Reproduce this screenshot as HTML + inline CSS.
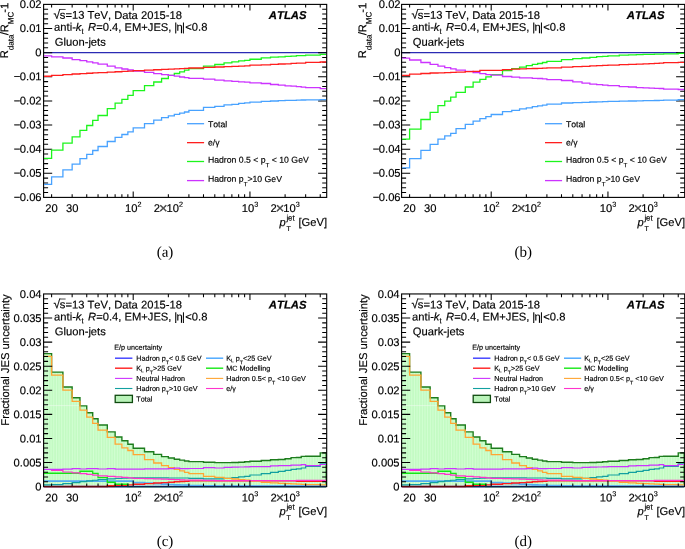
<!DOCTYPE html>
<html lang="en"><head><meta charset="utf-8"><title>JES uncertainty from E/p</title>
<style>
html,body{margin:0;padding:0;background:#fff}
body{width:685px;height:549px;overflow:hidden}
svg{display:block;font-family:"Liberation Sans", sans-serif;fill:#000;text-rendering:geometricPrecision;font-kerning:none}
text{stroke:#000;stroke-width:.16px}
.k{fill:none;stroke:#000;stroke-width:1.05}
.fr{fill:none;stroke:#000;stroke-width:1.12}
.c{fill:none;stroke-width:1.3;stroke-linejoin:miter}
</style></head><body>
<svg width="685" height="549" viewBox="0 0 685 549">
<rect width="685" height="549" fill="#fff"/>
<g>
<path class="c" stroke="#2b2bb4" style="stroke-width:1.25" d="M43.6 52.65H326.7"/>
<path class="k" d="M43.6 9.23h4.5M326.7 9.23h-4.5M43.6 14.05h4.5M326.7 14.05h-4.5M43.6 18.88h4.5M326.7 18.88h-4.5M43.6 23.7h4.5M326.7 23.7h-4.5M43.6 28.52h8.6M326.7 28.52h-8.6M43.6 33.35h4.5M326.7 33.35h-4.5M43.6 38.17h4.5M326.7 38.17h-4.5M43.6 43h4.5M326.7 43h-4.5M43.6 47.83h4.5M326.7 47.83h-4.5M43.6 52.65h8.6M326.7 52.65h-8.6M43.6 57.48h4.5M326.7 57.48h-4.5M43.6 62.3h4.5M326.7 62.3h-4.5M43.6 67.12h4.5M326.7 67.12h-4.5M43.6 71.95h4.5M326.7 71.95h-4.5M43.6 76.78h8.6M326.7 76.78h-8.6M43.6 81.6h4.5M326.7 81.6h-4.5M43.6 86.43h4.5M326.7 86.43h-4.5M43.6 91.25h4.5M326.7 91.25h-4.5M43.6 96.08h4.5M326.7 96.08h-4.5M43.6 100.9h8.6M326.7 100.9h-8.6M43.6 105.73h4.5M326.7 105.73h-4.5M43.6 110.55h4.5M326.7 110.55h-4.5M43.6 115.38h4.5M326.7 115.38h-4.5M43.6 120.2h4.5M326.7 120.2h-4.5M43.6 125.03h8.6M326.7 125.03h-8.6M43.6 129.85h4.5M326.7 129.85h-4.5M43.6 134.68h4.5M326.7 134.68h-4.5M43.6 139.5h4.5M326.7 139.5h-4.5M43.6 144.33h4.5M326.7 144.33h-4.5M43.6 149.15h8.6M326.7 149.15h-8.6M43.6 153.97h4.5M326.7 153.97h-4.5M43.6 158.8h4.5M326.7 158.8h-4.5M43.6 163.62h4.5M326.7 163.62h-4.5M43.6 168.45h4.5M326.7 168.45h-4.5M43.6 173.28h8.6M326.7 173.28h-8.6M43.6 178.1h4.5M326.7 178.1h-4.5M43.6 182.93h4.5M326.7 182.93h-4.5M43.6 187.75h4.5M326.7 187.75h-4.5M43.6 192.58h4.5M326.7 192.58h-4.5M51.6 197.4v-3.2M51.6 4.4v3.2M72.15 197.4v-3.2M72.15 4.4v3.2M86.74 197.4v-3.2M86.74 4.4v3.2M98.05 197.4v-3.2M98.05 4.4v3.2M107.3 197.4v-3.2M107.3 4.4v3.2M115.12 197.4v-3.2M115.12 4.4v3.2M121.89 197.4v-3.2M121.89 4.4v3.2M127.86 197.4v-3.2M127.86 4.4v3.2M133.2 197.4v-6M133.2 4.4v6M168.35 197.4v-3.2M168.35 4.4v3.2M188.9 197.4v-3.2M188.9 4.4v3.2M203.49 197.4v-3.2M203.49 4.4v3.2M214.8 197.4v-3.2M214.8 4.4v3.2M224.05 197.4v-3.2M224.05 4.4v3.2M231.87 197.4v-3.2M231.87 4.4v3.2M238.64 197.4v-3.2M238.64 4.4v3.2M244.61 197.4v-3.2M244.61 4.4v3.2M249.95 197.4v-6M249.95 4.4v6M285.1 197.4v-3.2M285.1 4.4v3.2M305.65 197.4v-3.2M305.65 4.4v3.2M320.24 197.4v-3.2M320.24 4.4v3.2"/>
<rect class="fr" x="43.6" y="4.4" width="283.1" height="193"/>
<text x="41.6" y="8" font-size="11.2" text-anchor="end" transform="rotate(0.1 41.6 8)">0.02</text>
<text x="41.6" y="32.12" font-size="11.2" text-anchor="end" transform="rotate(0.1 41.6 32.12)">0.01</text>
<text x="41.6" y="56.25" font-size="11.2" text-anchor="end" transform="rotate(0.1 41.6 56.25)">0</text>
<text x="41.6" y="80.38" font-size="11.2" text-anchor="end" transform="rotate(0.1 41.6 80.38)">−<tspan dx="-0.6">0.01</tspan></text>
<text x="41.6" y="104.5" font-size="11.2" text-anchor="end" transform="rotate(0.1 41.6 104.5)">−<tspan dx="-0.6">0.02</tspan></text>
<text x="41.6" y="128.62" font-size="11.2" text-anchor="end" transform="rotate(0.1 41.6 128.62)">−<tspan dx="-0.6">0.03</tspan></text>
<text x="41.6" y="152.75" font-size="11.2" text-anchor="end" transform="rotate(0.1 41.6 152.75)">−<tspan dx="-0.6">0.04</tspan></text>
<text x="41.6" y="176.88" font-size="11.2" text-anchor="end" transform="rotate(0.1 41.6 176.88)">−<tspan dx="-0.6">0.05</tspan></text>
<text x="41.6" y="201" font-size="11.2" text-anchor="end" transform="rotate(0.1 41.6 201)">−<tspan dx="-0.6">0.06</tspan></text>
<text x="51.6" y="212.1" font-size="11.2" text-anchor="middle" transform="rotate(0.1 51.6 212.1)">20</text>
<text x="72.15" y="212.1" font-size="11.2" text-anchor="middle" transform="rotate(0.1 72.15 212.1)">30</text>
<text x="133.2" y="212.1" font-size="11.2" text-anchor="middle" transform="rotate(0.1 133.2 212.1)">10<tspan font-size="7.2" dy="-5.3">2</tspan></text>
<text x="168.35" y="212.1" font-size="11.2" text-anchor="middle" transform="rotate(0.1 168.35 212.1)">2<tspan font-size="14.6" dx="-1.05" dy="0.85" fill-opacity=".72">×</tspan><tspan dx="-0.95" dy="-0.85">10</tspan><tspan font-size="7.2" dy="-5.3">2</tspan></text>
<text x="249.95" y="212.1" font-size="11.2" text-anchor="middle" transform="rotate(0.1 249.95 212.1)">10<tspan font-size="7.2" dy="-5.3">3</tspan></text>
<text x="285.1" y="212.1" font-size="11.2" text-anchor="middle" transform="rotate(0.1 285.1 212.1)">2<tspan font-size="14.6" dx="-1.05" dy="0.85" fill-opacity=".72">×</tspan><tspan dx="-0.95" dy="-0.85">10</tspan><tspan font-size="7.2" dy="-5.3">3</tspan></text>
<text x="327" y="226" font-size="11.2" text-anchor="end" transform="rotate(0.1 327 226)">[GeV]</text>
<text x="279.6" y="226" font-size="11.2" text-anchor="start" transform="rotate(0.1 279.6 226)" font-style="italic">p</text>
<text x="286.4" y="220.6" font-size="7.8" text-anchor="start" transform="rotate(0.1 286.4 220.6)">jet</text>
<text x="286.4" y="231.1" font-size="7" text-anchor="start" transform="rotate(0.1 286.4 231.1)">T</text>
<clipPath id="ct0"><rect x="44.1" y="4.9" width="282.1" height="192"/></clipPath>
<g clip-path="url(#ct0)">
<path class="c" stroke="#48a2ff" d="M43.6 184.4H51.6V176.9H62.91V169.8H72.15V164.1H79.97V158.7H86.74V154.3H92.71V150.5H98.05V146.5H107.3V141.5H115.12V137.4H121.89V134.5H127.86V131.8H133.2V127.8H144.51V123.7H153.76V120.1H161.57V117.6H168.35V115.8H174.32V114.4H179.66V113.2H184.49V112H188.9V110.3H203.49V107.44H214.8V106.4H224.05V104.94H231.87V104.33H238.64V103.46H244.61V102.8H249.95V102.1H261.26V101.4H270.51V101H278.32V100.6H285.1V100.4H291.07V100.3H296.41V100.15H301.24V100H305.65V99.9H320.24V99.6H326.21"/>
<path class="c" stroke="#1cf51c" d="M43.6 158.3H51.6V150.1H62.91V143.2H72.15V136.8H79.97V130.4H86.74V125.5H92.71V120.4H98.05V115.5H107.3V108.6H115.12V103.2H121.89V99.3H127.86V95.4H133.2V90.7H144.51V85.6H153.76V82H161.57V78.5H168.35V75.4H174.32V73.5H179.66V71.8H184.49V70.1H188.9V68.6H203.49V66.1H214.8V64.5H224.05V62.8H231.87V61.9H238.64V60.9H244.61V60.3H249.95V59.25H261.26V57.85H270.51V57.15H278.32V56.8H285.1V56.45H291.07V56.2H296.41V55.65H301.24V55.6H305.65V55.1H320.24V54.35H326.21"/>
<path class="c" stroke="#cc33ff" d="M43.6 55.8H51.6V56.9H62.91V58H72.15V59.6H79.97V60.7H86.74V61.8H92.71V62.9H98.05V64.2H107.3V66.1H115.12V67.8H121.89V69H127.86V70H133.2V71H144.51V72.4H153.76V73.6H161.57V74.7H168.35V75.4H174.32V76.2H179.66V77H184.49V77.7H188.9V78.4H203.49V79.2H214.8V80.2H224.05V80.8H231.87V81.4H238.64V81.8H244.61V82.2H249.95V82.8H261.26V83.5H270.51V84.5H278.32V85.2H285.1V85.8H291.07V86.2H296.41V86.6H301.24V87.1H305.65V87.7H320.24V88.6H326.21"/>
<path class="c" stroke="#ff1e1e" d="M43.6 76.25H51.6V75.38H62.91V74.56H72.15V74H79.97V73.58H86.74V73.25H92.71V72.96H98.05V72.58H107.3V72.14H115.12V71.76H121.89V71.43H127.86V71.14H133.2V70.71H144.51V70.18H153.76V69.73H161.57V69.36H168.35V69.06H174.32V68.82H179.66V68.6H184.49V68.4H188.9V68H203.49V67.44H214.8V67H224.05V66.64H231.87V66.33H238.64V66.06H244.61V65.82H249.95V65.1H261.26V64.8H270.51V64.35H278.32V64H285.1V63.8H291.07V63.45H296.41V63.2H301.24V63.1H305.65V62.3H320.24V62H326.21"/>
</g>
<text x="53.5" y="18.8" font-size="11.2" text-anchor="start" transform="rotate(0.1 53.5 18.8)"><tspan font-size="12.2">√</tspan><tspan dx="-0.4">s=13 TeV, Data 2015-18</tspan></text>
<path class="k" style="stroke-width:.7" d="M60 9.48h5.6"/>
<text x="54.1" y="30.85" font-size="11.2" text-anchor="start" transform="rotate(0.1 54.1 30.85)">anti-<tspan font-style="italic">k</tspan></text>
<text x="81.5" y="33.75" font-size="7.6" text-anchor="start" transform="rotate(0.1 81.5 33.75)">t</text>
<text x="88.1" y="30.85" font-size="11.2" text-anchor="start" transform="rotate(0.1 88.1 30.85)"><tspan font-style="italic">R</tspan>=0.4, EM+JES,</text>
<text x="174.15" y="30.85" font-size="11.2" text-anchor="start" transform="rotate(0.1 174.15 30.85)" letter-spacing="-0.6">|η|</text>
<text x="185.3" y="30.85" font-size="11.2" text-anchor="start" transform="rotate(0.1 185.3 30.85)">&lt;0.8</text>
<text x="54.8" y="45.7" font-size="11.2" text-anchor="start" transform="rotate(0.1 54.8 45.7)">Gluon-jets</text>
<text x="306.5" y="19.1" font-size="11.3" text-anchor="end" transform="rotate(0.1 306.5 19.1)" font-weight="bold" font-style="italic" style="stroke-width:.24px">ATLAS</text>
<g transform="translate(8.2 2.7) rotate(-89.9)">
<text x="0" y="0" font-size="11.2" text-anchor="end">R<tspan font-size="8" dy="5.3">data</tspan><tspan dy="-5.3" dx="-0.5">/</tspan><tspan dx="-0.25">R</tspan><tspan font-size="8" dy="5.3">MC</tspan><tspan dy="-5.3" dx="-0.9">-1</tspan></text>
</g>
<path class="c" stroke="#48a2ff" d="M187 123.7H204.1"/>
<text x="207.9" y="127.15" font-size="8.7" text-anchor="start" transform="rotate(0.1 207.9 127.15)">Total</text>
<path class="c" stroke="#ff1e1e" d="M187 142.65H204.1"/>
<text x="207.9" y="145.55" font-size="8.7" text-anchor="start" transform="rotate(0.1 207.9 145.55)">e/γ</text>
<path class="c" stroke="#1cf51c" d="M187 161.5H204.1"/>
<text x="207.9" y="162.7" font-size="8.7" text-anchor="start" transform="rotate(0.1 207.9 162.7)">Hadron 0.5 &lt; p<tspan font-size="6.2" dy="4.4">T</tspan><tspan dy="-4.4"> &lt; 10 GeV</tspan></text>
<path class="c" stroke="#cc33ff" d="M187 180.6H204.1"/>
<text x="207.9" y="181.8" font-size="8.7" text-anchor="start" transform="rotate(0.1 207.9 181.8)">Hadron p<tspan font-size="6.2" dy="4.4">T</tspan><tspan dy="-4.4">&gt;10 GeV</tspan></text>
</g>
<g>
<path class="c" stroke="#2b2bb4" style="stroke-width:1.25" d="M401.6 52.65H684.7"/>
<path class="k" d="M401.6 9.23h4.5M684.7 9.23h-4.5M401.6 14.05h4.5M684.7 14.05h-4.5M401.6 18.88h4.5M684.7 18.88h-4.5M401.6 23.7h4.5M684.7 23.7h-4.5M401.6 28.52h8.6M684.7 28.52h-8.6M401.6 33.35h4.5M684.7 33.35h-4.5M401.6 38.17h4.5M684.7 38.17h-4.5M401.6 43h4.5M684.7 43h-4.5M401.6 47.83h4.5M684.7 47.83h-4.5M401.6 52.65h8.6M684.7 52.65h-8.6M401.6 57.48h4.5M684.7 57.48h-4.5M401.6 62.3h4.5M684.7 62.3h-4.5M401.6 67.12h4.5M684.7 67.12h-4.5M401.6 71.95h4.5M684.7 71.95h-4.5M401.6 76.78h8.6M684.7 76.78h-8.6M401.6 81.6h4.5M684.7 81.6h-4.5M401.6 86.43h4.5M684.7 86.43h-4.5M401.6 91.25h4.5M684.7 91.25h-4.5M401.6 96.08h4.5M684.7 96.08h-4.5M401.6 100.9h8.6M684.7 100.9h-8.6M401.6 105.73h4.5M684.7 105.73h-4.5M401.6 110.55h4.5M684.7 110.55h-4.5M401.6 115.38h4.5M684.7 115.38h-4.5M401.6 120.2h4.5M684.7 120.2h-4.5M401.6 125.03h8.6M684.7 125.03h-8.6M401.6 129.85h4.5M684.7 129.85h-4.5M401.6 134.68h4.5M684.7 134.68h-4.5M401.6 139.5h4.5M684.7 139.5h-4.5M401.6 144.33h4.5M684.7 144.33h-4.5M401.6 149.15h8.6M684.7 149.15h-8.6M401.6 153.97h4.5M684.7 153.97h-4.5M401.6 158.8h4.5M684.7 158.8h-4.5M401.6 163.62h4.5M684.7 163.62h-4.5M401.6 168.45h4.5M684.7 168.45h-4.5M401.6 173.28h8.6M684.7 173.28h-8.6M401.6 178.1h4.5M684.7 178.1h-4.5M401.6 182.93h4.5M684.7 182.93h-4.5M401.6 187.75h4.5M684.7 187.75h-4.5M401.6 192.58h4.5M684.7 192.58h-4.5M409.6 197.4v-3.2M409.6 4.4v3.2M430.15 197.4v-3.2M430.15 4.4v3.2M444.74 197.4v-3.2M444.74 4.4v3.2M456.05 197.4v-3.2M456.05 4.4v3.2M465.3 197.4v-3.2M465.3 4.4v3.2M473.12 197.4v-3.2M473.12 4.4v3.2M479.89 197.4v-3.2M479.89 4.4v3.2M485.86 197.4v-3.2M485.86 4.4v3.2M491.2 197.4v-6M491.2 4.4v6M526.35 197.4v-3.2M526.35 4.4v3.2M546.9 197.4v-3.2M546.9 4.4v3.2M561.49 197.4v-3.2M561.49 4.4v3.2M572.8 197.4v-3.2M572.8 4.4v3.2M582.05 197.4v-3.2M582.05 4.4v3.2M589.87 197.4v-3.2M589.87 4.4v3.2M596.64 197.4v-3.2M596.64 4.4v3.2M602.61 197.4v-3.2M602.61 4.4v3.2M607.95 197.4v-6M607.95 4.4v6M643.1 197.4v-3.2M643.1 4.4v3.2M663.65 197.4v-3.2M663.65 4.4v3.2M678.24 197.4v-3.2M678.24 4.4v3.2"/>
<rect class="fr" x="401.6" y="4.4" width="283.1" height="193"/>
<text x="400.6" y="8" font-size="11.2" text-anchor="end" transform="rotate(0.1 400.6 8)">0.02</text>
<text x="400.6" y="32.12" font-size="11.2" text-anchor="end" transform="rotate(0.1 400.6 32.12)">0.01</text>
<text x="400.6" y="56.25" font-size="11.2" text-anchor="end" transform="rotate(0.1 400.6 56.25)">0</text>
<text x="400.6" y="80.38" font-size="11.2" text-anchor="end" transform="rotate(0.1 400.6 80.38)">−<tspan dx="-0.6">0.01</tspan></text>
<text x="400.6" y="104.5" font-size="11.2" text-anchor="end" transform="rotate(0.1 400.6 104.5)">−<tspan dx="-0.6">0.02</tspan></text>
<text x="400.6" y="128.62" font-size="11.2" text-anchor="end" transform="rotate(0.1 400.6 128.62)">−<tspan dx="-0.6">0.03</tspan></text>
<text x="400.6" y="152.75" font-size="11.2" text-anchor="end" transform="rotate(0.1 400.6 152.75)">−<tspan dx="-0.6">0.04</tspan></text>
<text x="400.6" y="176.88" font-size="11.2" text-anchor="end" transform="rotate(0.1 400.6 176.88)">−<tspan dx="-0.6">0.05</tspan></text>
<text x="400.6" y="201" font-size="11.2" text-anchor="end" transform="rotate(0.1 400.6 201)">−<tspan dx="-0.6">0.06</tspan></text>
<text x="409.6" y="212.1" font-size="11.2" text-anchor="middle" transform="rotate(0.1 409.6 212.1)">20</text>
<text x="430.15" y="212.1" font-size="11.2" text-anchor="middle" transform="rotate(0.1 430.15 212.1)">30</text>
<text x="491.2" y="212.1" font-size="11.2" text-anchor="middle" transform="rotate(0.1 491.2 212.1)">10<tspan font-size="7.2" dy="-5.3">2</tspan></text>
<text x="526.35" y="212.1" font-size="11.2" text-anchor="middle" transform="rotate(0.1 526.35 212.1)">2<tspan font-size="14.6" dx="-1.05" dy="0.85" fill-opacity=".72">×</tspan><tspan dx="-0.95" dy="-0.85">10</tspan><tspan font-size="7.2" dy="-5.3">2</tspan></text>
<text x="607.95" y="212.1" font-size="11.2" text-anchor="middle" transform="rotate(0.1 607.95 212.1)">10<tspan font-size="7.2" dy="-5.3">3</tspan></text>
<text x="643.1" y="212.1" font-size="11.2" text-anchor="middle" transform="rotate(0.1 643.1 212.1)">2<tspan font-size="14.6" dx="-1.05" dy="0.85" fill-opacity=".72">×</tspan><tspan dx="-0.95" dy="-0.85">10</tspan><tspan font-size="7.2" dy="-5.3">3</tspan></text>
<text x="685" y="226" font-size="11.2" text-anchor="end" transform="rotate(0.1 685 226)">[GeV]</text>
<text x="637.6" y="226" font-size="11.2" text-anchor="start" transform="rotate(0.1 637.6 226)" font-style="italic">p</text>
<text x="644.4" y="220.6" font-size="7.8" text-anchor="start" transform="rotate(0.1 644.4 220.6)">jet</text>
<text x="644.4" y="231.1" font-size="7" text-anchor="start" transform="rotate(0.1 644.4 231.1)">T</text>
<clipPath id="ct358"><rect x="402.1" y="4.9" width="282.1" height="192"/></clipPath>
<g clip-path="url(#ct358)">
<path class="c" stroke="#48a2ff" d="M401.6 167.8H409.6V158.7H420.91V150.4H430.15V144.4H437.97V139.2H444.74V135.8H450.71V133.3H456.05V128.7H465.3V124.4H473.12V121.1H479.89V118.7H485.86V116.6H491.2V114.5H502.51V111.7H511.76V110.3H519.57V108.8H526.35V107.8H532.32V106.6H537.66V105.9H542.49V105.1H546.9V104.1H561.49V103H572.8V102.6H582.05V102.4H589.87V102H596.64V101.8H602.61V101.6H607.95V101.45H619.26V101.2H628.51V101H636.32V100.85H643.1V100.7H649.07V100.6H654.41V100.5H659.24V100.4H663.65V100.2H678.24V99.7H684.21"/>
<path class="c" stroke="#1cf51c" d="M401.6 139.2H409.6V129.2H420.91V119.5H430.15V112.4H437.97V105.6H444.74V101.1H450.71V97.2H456.05V92.4H465.3V87H473.12V82.2H479.89V79.3H485.86V76.8H491.2V74.6H502.51V70.5H511.76V68.6H519.57V67.2H526.35V65.7H532.32V64.4H537.66V63.5H542.49V62.5H546.9V61.4H561.49V59.6H572.8V58.6H582.05V58H589.87V57.4H596.64V56.7H602.61V56.4H607.95V55.9H619.26V55.15H628.51V54.85H636.32V54.6H643.1V54.45H649.07V54.3H654.41V54.2H659.24V54.1H663.65V53.85H678.24V53.4H684.21"/>
<path class="c" stroke="#cc33ff" d="M401.6 58.1H409.6V60H420.91V62.5H430.15V64.4H437.97V66.2H444.74V67.6H450.71V68.8H456.05V70.1H465.3V71.4H473.12V72.5H479.89V73.7H485.86V74.7H491.2V75.2H502.51V76.5H511.76V77.2H519.57V77.8H526.35V77.8H532.32V78.3H537.66V78.5H542.49V78.9H546.9V79.7H561.49V80.5H572.8V81.9H582.05V83.2H589.87V84.1H596.64V84.7H602.61V85.1H607.95V85.6H619.26V86.6H628.51V87H636.32V87.6H643.1V87.8H649.07V88.1H654.41V88.3H659.24V88.5H663.65V89.1H678.24V89.5H684.21"/>
<path class="c" stroke="#ff1e1e" d="M401.6 75.4H409.6V74.2H420.91V73.5H430.15V73H437.97V72.8H444.74V72.6H450.71V72.4H456.05V72.1H465.3V71.6H473.12V71.35H479.89V70.3H485.86V70.3H491.2V70.3H502.51V69.6H511.76V69.2H519.57V68.9H526.35V68.7H532.32V68.5H537.66V68.4H542.49V68.2H546.9V67.89H561.49V67.19H572.8V66.59H582.05V66.4H589.87V65.89H596.64V65.64H602.61V65.41H607.95V65.06H619.26V64.61H628.51V64.35H636.32V64.14H643.1V63.96H649.07V63.7H654.41V63.44H659.24V63.2H663.65V62.7H678.24V62.3H684.21"/>
</g>
<text x="411.5" y="18.8" font-size="11.2" text-anchor="start" transform="rotate(0.1 411.5 18.8)"><tspan font-size="12.2">√</tspan><tspan dx="-0.4">s=13 TeV, Data 2015-18</tspan></text>
<path class="k" style="stroke-width:.7" d="M418 9.48h5.6"/>
<text x="412.1" y="30.85" font-size="11.2" text-anchor="start" transform="rotate(0.1 412.1 30.85)">anti-<tspan font-style="italic">k</tspan></text>
<text x="439.5" y="33.75" font-size="7.6" text-anchor="start" transform="rotate(0.1 439.5 33.75)">t</text>
<text x="446.1" y="30.85" font-size="11.2" text-anchor="start" transform="rotate(0.1 446.1 30.85)"><tspan font-style="italic">R</tspan>=0.4, EM+JES,</text>
<text x="532.15" y="30.85" font-size="11.2" text-anchor="start" transform="rotate(0.1 532.15 30.85)" letter-spacing="-0.6">|η|</text>
<text x="543.3" y="30.85" font-size="11.2" text-anchor="start" transform="rotate(0.1 543.3 30.85)">&lt;0.8</text>
<text x="412.8" y="45.7" font-size="11.2" text-anchor="start" transform="rotate(0.1 412.8 45.7)">Quark-jets</text>
<text x="664.5" y="19.1" font-size="11.3" text-anchor="end" transform="rotate(0.1 664.5 19.1)" font-weight="bold" font-style="italic" style="stroke-width:.24px">ATLAS</text>
<g transform="translate(366.2 2.7) rotate(-89.9)">
<text x="0" y="0" font-size="11.2" text-anchor="end">R<tspan font-size="8" dy="5.3">data</tspan><tspan dy="-5.3" dx="-0.5">/</tspan><tspan dx="-0.25">R</tspan><tspan font-size="8" dy="5.3">MC</tspan><tspan dy="-5.3" dx="-0.9">-1</tspan></text>
</g>
<path class="c" stroke="#48a2ff" d="M545 123.7H562.1"/>
<text x="565.9" y="127.15" font-size="8.7" text-anchor="start" transform="rotate(0.1 565.9 127.15)">Total</text>
<path class="c" stroke="#ff1e1e" d="M545 142.65H562.1"/>
<text x="565.9" y="145.55" font-size="8.7" text-anchor="start" transform="rotate(0.1 565.9 145.55)">e/γ</text>
<path class="c" stroke="#1cf51c" d="M545 161.5H562.1"/>
<text x="565.9" y="162.7" font-size="8.7" text-anchor="start" transform="rotate(0.1 565.9 162.7)">Hadron 0.5 &lt; p<tspan font-size="6.2" dy="4.4">T</tspan><tspan dy="-4.4"> &lt; 10 GeV</tspan></text>
<path class="c" stroke="#cc33ff" d="M545 180.6H562.1"/>
<text x="565.9" y="181.8" font-size="8.7" text-anchor="start" transform="rotate(0.1 565.9 181.8)">Hadron p<tspan font-size="6.2" dy="4.4">T</tspan><tspan dy="-4.4">&gt;10 GeV</tspan></text>
</g>
<g>
<path fill="#c3fbc3" stroke="none" d="M43.6 353.6H51.6V372.1H62.91V387H72.15V397.8H79.97V405.9H86.74V412.7H92.71V418.7H98.05V425H107.3V431.9H115.12V437H121.89V440.8H127.86V444.2H133.2V448.3H144.51V451.8H153.76V454.4H161.57V456.6H168.35V458H174.32V459.2H179.66V460.1H184.49V461H188.9V461.6H203.49V462.3H214.8V462.6H224.05V462.6H231.87V462.5H238.64V462.3H244.61V461.8H249.95V461.2H261.26V460.5H270.51V459.8H278.32V459.5H285.1V458.8H291.07V457.6H296.41V457.5H301.24V456.4H305.65V456.3H320.24V452.9H326.21V486.6H43.6Z"/>
<clipPath id="cp0"><path d="M43.6 353.6H51.6V372.1H62.91V387H72.15V397.8H79.97V405.9H86.74V412.7H92.71V418.7H98.05V425H107.3V431.9H115.12V437H121.89V440.8H127.86V444.2H133.2V448.3H144.51V451.8H153.76V454.4H161.57V456.6H168.35V458H174.32V459.2H179.66V460.1H184.49V461H188.9V461.6H203.49V462.3H214.8V462.6H224.05V462.6H231.87V462.5H238.64V462.3H244.61V461.8H249.95V461.2H261.26V460.5H270.51V459.8H278.32V459.5H285.1V458.8H291.07V457.6H296.41V457.5H301.24V456.4H305.65V456.3H320.24V452.9H326.21V486.6H43.6Z"/></clipPath>
<path clip-path="url(#cp0)" fill="none" stroke="#d6ffd6" stroke-width=".8" d="M45.8 293.95V486.6M48.45 293.95V486.6M51.1 293.95V486.6M53.75 293.95V486.6M56.4 293.95V486.6M59.05 293.95V486.6M61.7 293.95V486.6M64.35 293.95V486.6M67 293.95V486.6M69.65 293.95V486.6M72.3 293.95V486.6M74.95 293.95V486.6M77.6 293.95V486.6M80.25 293.95V486.6M82.9 293.95V486.6M85.55 293.95V486.6M88.2 293.95V486.6M90.85 293.95V486.6M93.5 293.95V486.6M96.15 293.95V486.6M98.8 293.95V486.6M101.45 293.95V486.6M104.1 293.95V486.6M106.75 293.95V486.6M109.4 293.95V486.6M112.05 293.95V486.6M114.7 293.95V486.6M117.35 293.95V486.6M120 293.95V486.6M122.65 293.95V486.6M125.3 293.95V486.6M127.95 293.95V486.6M130.6 293.95V486.6M133.25 293.95V486.6M135.9 293.95V486.6M138.55 293.95V486.6M141.2 293.95V486.6M143.85 293.95V486.6M146.5 293.95V486.6M149.15 293.95V486.6M151.8 293.95V486.6M154.45 293.95V486.6M157.1 293.95V486.6M159.75 293.95V486.6M162.4 293.95V486.6M165.05 293.95V486.6M167.7 293.95V486.6M170.35 293.95V486.6M173 293.95V486.6M175.65 293.95V486.6M178.3 293.95V486.6M180.95 293.95V486.6M183.6 293.95V486.6M186.25 293.95V486.6M188.9 293.95V486.6M191.55 293.95V486.6M194.2 293.95V486.6M196.85 293.95V486.6M199.5 293.95V486.6M202.15 293.95V486.6M204.8 293.95V486.6M207.45 293.95V486.6M210.1 293.95V486.6M212.75 293.95V486.6M215.4 293.95V486.6M218.05 293.95V486.6M220.7 293.95V486.6M223.35 293.95V486.6M226 293.95V486.6M228.65 293.95V486.6M231.3 293.95V486.6M233.95 293.95V486.6M236.6 293.95V486.6M239.25 293.95V486.6M241.9 293.95V486.6M244.55 293.95V486.6M247.2 293.95V486.6M249.85 293.95V486.6M252.5 293.95V486.6M255.15 293.95V486.6M257.8 293.95V486.6M260.45 293.95V486.6M263.1 293.95V486.6M265.75 293.95V486.6M268.4 293.95V486.6M271.05 293.95V486.6M273.7 293.95V486.6M276.35 293.95V486.6M279 293.95V486.6M281.65 293.95V486.6M284.3 293.95V486.6M286.95 293.95V486.6M289.6 293.95V486.6M292.25 293.95V486.6M294.9 293.95V486.6M297.55 293.95V486.6M300.2 293.95V486.6M302.85 293.95V486.6M305.5 293.95V486.6M308.15 293.95V486.6M310.8 293.95V486.6M313.45 293.95V486.6M316.1 293.95V486.6M318.75 293.95V486.6M321.4 293.95V486.6M324.05 293.95V486.6M326.7 293.95V486.6"/>
<path class="c" stroke="#eefcee" style="stroke-width:.6" d="M44.1 405.6H79.6"/>
<path class="c" stroke="#1d7c1d" style="stroke-width:1.38" d="M43.6 353.6H51.6V372.1H62.91V387H72.15V397.8H79.97V405.9H86.74V412.7H92.71V418.7H98.05V425H107.3V431.9H115.12V437H121.89V440.8H127.86V444.2H133.2V448.3H144.51V451.8H153.76V454.4H161.57V456.6H168.35V458H174.32V459.2H179.66V460.1H184.49V461H188.9V461.6H203.49V462.3H214.8V462.6H224.05V462.6H231.87V462.5H238.64V462.3H244.61V461.8H249.95V461.2H261.26V460.5H270.51V459.8H278.32V459.5H285.1V458.8H291.07V457.6H296.41V457.5H301.24V456.4H305.65V456.3H320.24V452.9H326.21V486.6"/>
<path class="c" stroke="#3a3aff" style="stroke-width:1.4" d="M43.6 486.5H51.6V486.5H62.91V486.5H72.15V486.5H79.97V486.5H86.74V486.5H92.71V486.5H98.05V486.5H107.3V486.5H115.12V486.5H121.89V486.5H127.86V486.5H133.2V486.5H144.51V486.5H153.76V486.5H161.57V486.5H168.35V486.5H174.32V486.5H179.66V486.5H184.49V486.5H188.9V486.5H203.49V486.5H214.8V486.5H224.05V486.5H231.87V486.5H238.64V486.5H244.61V486.5H249.95V486.5H261.26V486.5H270.51V486.5H278.32V486.5H285.1V486.5H291.07V486.5H296.41V486.5H301.24V486.5H305.65V486.5H320.24V486.5H326.21"/>
<path class="c" stroke="#52aaf4" style="stroke-width:1.7" d="M43.6 481.1H51.6V481.1H62.91V481.1H72.15V481.1H79.97V481.1H86.74V481.1H92.71V481.1H98.05V481.1H107.3V481.1H115.12V481.1H121.89V481.1H127.86V481.1H133.2V482.6H144.51V483.2H153.76V483.7H161.57V484.1H168.35V484.5H174.32V484.8H179.66V485H184.49V485.2H188.9V485.5H203.49V485.8H214.8V486H224.05V486H231.87V486H238.64V486H244.61V486H249.95V486H261.26V486H270.51V486H278.32V486H285.1V486H291.07V486H296.41V486H301.24V486H305.65V486H320.24V486H326.21"/>
<path class="c" stroke="#ff1e1e" style="stroke-width:1.4" d="M43.6 486.45H51.6V486.45H62.91V486.45H72.15V486.45H79.97V486.45H86.74V486.45H92.71V486.45H98.05V486.45H107.3V485.6H115.12V485.5H121.89V485.5H127.86V484.9H133.2V484.3H144.51V483.6H153.76V483H161.57V482.6H168.35V482.2H174.32V481.8H179.66V481.5H184.49V481.2H188.9V480.9H203.49V480.8H214.8V480.7H224.05V480.7H231.87V480.7H238.64V480.7H244.61V480.7H249.95V480.7H261.26V480.7H270.51V480.7H278.32V480.7H285.1V480.7H291.07V480.7H296.41V481.2H301.24V481.2H305.65V481.2H320.24V481.2H326.21"/>
<path class="c" stroke="#15e815" style="stroke-width:1.4" d="M43.6 473.3H51.6V473.3H62.91V473.3H72.15V473.3H79.97V471.3H86.74V471.3H92.71V473.4H98.05V477.6H107.3V482.3H115.12V484.3H121.89V484.3H127.86V486.6H133.2V486.6H144.51V486.6H153.76V486.6H161.57V486.6H168.35V486.6H174.32V486.6H179.66V486.6H184.49V486.6H188.9V486.6H203.49V486.6H214.8V486.6H224.05V486.6H231.87V486.6H238.64V486.6H244.61V486.6H249.95V486.6H261.26V486.6H270.51V486.6H278.32V486.6H285.1V486.6H291.07V486.6H296.41V486.6H301.24V486.6H305.65V486.6H320.24V486.6H326.21"/>
<path class="c" stroke="#12a0a0" style="stroke-width:1.2" d="M43.6 484.8H51.6V484.6H62.91V483.7H72.15V482.7H79.97V481.7H86.74V480.9H92.71V480.25H98.05V479.5H107.3V478.9H115.12V478.5H121.89V478.2H127.86V478H133.2V477.9H144.51V477.8H153.76V477.8H161.57V477.8H168.35V478H174.32V478H179.66V478H184.49V478H188.9V478.3H203.49V478.8H214.8V478.9H224.05V478.3H231.87V477.7H238.64V476.8H244.61V476.4H249.95V475H261.26V473.7H270.51V472.4H278.32V471.4H285.1V470.4H291.07V469.4H296.41V468.9H301.24V468H305.65V466.4H320.24V463.9H326.21"/>
<path class="c" stroke="#ffa533" style="stroke-width:1.3" d="M43.6 356.4H51.6V375.1H62.91V390.1H72.15V401.4H79.97V410.1H86.74V417.2H92.71V423.4H98.05V430.1H107.3V437.4H115.12V444.1H121.89V447.9H127.86V450.5H133.2V454.6H144.51V459.6H153.76V463H161.57V465.6H168.35V467.6H174.32V469.3H179.66V470.8H184.49V472.4H188.9V473.6H203.49V476.4H214.8V477.4H224.05V478.3H231.87V479H238.64V479.6H244.61V480.2H249.95V481.2H261.26V482.3H270.51V482.9H278.32V483.3H285.1V483.6H291.07V483.9H296.41V484.1H301.24V484.3H305.65V484.6H320.24V484.9H326.21"/>
<path class="c" stroke="#ff33cc" style="stroke-width:1.2" d="M43.6 469.5H51.6V470.4H62.91V472H72.15V472.9H79.97V473.6H86.74V474.4H92.71V475.1H98.05V475.8H107.3V476.4H115.12V476.9H121.89V477.3H127.86V477.8H133.2V478.4H144.51V478.6H153.76V478.9H161.57V479.1H168.35V479.4H174.32V479.6H179.66V479.8H184.49V480H188.9V480.2H203.49V480.4H214.8V480.6H224.05V480.6H231.87V480.6H238.64V480.6H244.61V480.6H249.95V480.6H261.26V480.6H270.51V480.6H278.32V480.6H285.1V480.6H291.07V480.6H296.41V480.35H301.24V480.35H305.65V480.35H320.24V480.35H326.21"/>
<path class="c" stroke="#cc33ff" style="stroke-width:1.2" d="M43.6 469.3H51.6V469.3H62.91V469.2H72.15V468.7H79.97V469H86.74V468.7H92.71V468.7H98.05V469H107.3V468.7H115.12V469.1H121.89V469.1H127.86V469.1H133.2V469.1H144.51V468.9H153.76V468.9H161.57V468.9H168.35V468.6H174.32V468.2H179.66V468.6H184.49V468.6H188.9V468.5H203.49V467.7H214.8V468H224.05V467.3H231.87V467.2H238.64V467H244.61V466.8H249.95V466.6H261.26V466.6H270.51V465.8H278.32V465.7H285.1V465.7H291.07V465.1H296.41V465.1H301.24V464.7H305.65V465.7H320.24V464.5H326.21"/>
<path class="k" d="M43.6 298.77h4.5M326.7 298.77h-4.5M43.6 303.58h4.5M326.7 303.58h-4.5M43.6 308.4h4.5M326.7 308.4h-4.5M43.6 313.21h4.5M326.7 313.21h-4.5M43.6 318.03h8.6M326.7 318.03h-8.6M43.6 322.85h4.5M326.7 322.85h-4.5M43.6 327.66h4.5M326.7 327.66h-4.5M43.6 332.48h4.5M326.7 332.48h-4.5M43.6 337.3h4.5M326.7 337.3h-4.5M43.6 342.11h8.6M326.7 342.11h-8.6M43.6 346.93h4.5M326.7 346.93h-4.5M43.6 351.75h4.5M326.7 351.75h-4.5M43.6 356.56h4.5M326.7 356.56h-4.5M43.6 361.38h4.5M326.7 361.38h-4.5M43.6 366.19h8.6M326.7 366.19h-8.6M43.6 371.01h4.5M326.7 371.01h-4.5M43.6 375.83h4.5M326.7 375.83h-4.5M43.6 380.64h4.5M326.7 380.64h-4.5M43.6 385.46h4.5M326.7 385.46h-4.5M43.6 390.27h8.6M326.7 390.27h-8.6M43.6 395.09h4.5M326.7 395.09h-4.5M43.6 399.91h4.5M326.7 399.91h-4.5M43.6 404.72h4.5M326.7 404.72h-4.5M43.6 409.54h4.5M326.7 409.54h-4.5M43.6 414.36h8.6M326.7 414.36h-8.6M43.6 419.17h4.5M326.7 419.17h-4.5M43.6 423.99h4.5M326.7 423.99h-4.5M43.6 428.81h4.5M326.7 428.81h-4.5M43.6 433.62h4.5M326.7 433.62h-4.5M43.6 438.44h8.6M326.7 438.44h-8.6M43.6 443.25h4.5M326.7 443.25h-4.5M43.6 448.07h4.5M326.7 448.07h-4.5M43.6 452.89h4.5M326.7 452.89h-4.5M43.6 457.7h4.5M326.7 457.7h-4.5M43.6 462.52h8.6M326.7 462.52h-8.6M43.6 467.34h4.5M326.7 467.34h-4.5M43.6 472.15h4.5M326.7 472.15h-4.5M43.6 476.97h4.5M326.7 476.97h-4.5M43.6 481.78h4.5M326.7 481.78h-4.5M51.6 486.6v-3.2M51.6 293.95v3.2M72.15 486.6v-3.2M72.15 293.95v3.2M86.74 486.6v-3.2M86.74 293.95v3.2M98.05 486.6v-3.2M98.05 293.95v3.2M107.3 486.6v-3.2M107.3 293.95v3.2M115.12 486.6v-3.2M115.12 293.95v3.2M121.89 486.6v-3.2M121.89 293.95v3.2M127.86 486.6v-3.2M127.86 293.95v3.2M133.2 486.6v-6M133.2 293.95v6M168.35 486.6v-3.2M168.35 293.95v3.2M188.9 486.6v-3.2M188.9 293.95v3.2M203.49 486.6v-3.2M203.49 293.95v3.2M214.8 486.6v-3.2M214.8 293.95v3.2M224.05 486.6v-3.2M224.05 293.95v3.2M231.87 486.6v-3.2M231.87 293.95v3.2M238.64 486.6v-3.2M238.64 293.95v3.2M244.61 486.6v-3.2M244.61 293.95v3.2M249.95 486.6v-6M249.95 293.95v6M285.1 486.6v-3.2M285.1 293.95v3.2M305.65 486.6v-3.2M305.65 293.95v3.2M320.24 486.6v-3.2M320.24 293.95v3.2"/>
<rect class="fr" x="43.6" y="293.95" width="283.1" height="192.65"/>
<text x="41.6" y="297.95" font-size="11.2" text-anchor="end" transform="rotate(0.1 41.6 297.95)">0.04</text>
<text x="41.6" y="322.03" font-size="11.2" text-anchor="end" transform="rotate(0.1 41.6 322.03)">0.035</text>
<text x="41.6" y="346.11" font-size="11.2" text-anchor="end" transform="rotate(0.1 41.6 346.11)">0.03</text>
<text x="41.6" y="370.19" font-size="11.2" text-anchor="end" transform="rotate(0.1 41.6 370.19)">0.025</text>
<text x="41.6" y="394.27" font-size="11.2" text-anchor="end" transform="rotate(0.1 41.6 394.27)">0.02</text>
<text x="41.6" y="418.36" font-size="11.2" text-anchor="end" transform="rotate(0.1 41.6 418.36)">0.015</text>
<text x="41.6" y="442.44" font-size="11.2" text-anchor="end" transform="rotate(0.1 41.6 442.44)">0.01</text>
<text x="41.6" y="466.52" font-size="11.2" text-anchor="end" transform="rotate(0.1 41.6 466.52)">0.005</text>
<text x="41.6" y="490.6" font-size="11.2" text-anchor="end" transform="rotate(0.1 41.6 490.6)">0</text>
<text x="51.6" y="501.6" font-size="11.2" text-anchor="middle" transform="rotate(0.1 51.6 501.6)">20</text>
<text x="72.15" y="501.6" font-size="11.2" text-anchor="middle" transform="rotate(0.1 72.15 501.6)">30</text>
<text x="133.2" y="501.6" font-size="11.2" text-anchor="middle" transform="rotate(0.1 133.2 501.6)">10<tspan font-size="7.2" dy="-5.3">2</tspan></text>
<text x="168.35" y="501.6" font-size="11.2" text-anchor="middle" transform="rotate(0.1 168.35 501.6)">2<tspan font-size="14.6" dx="-1.05" dy="0.85" fill-opacity=".72">×</tspan><tspan dx="-0.95" dy="-0.85">10</tspan><tspan font-size="7.2" dy="-5.3">2</tspan></text>
<text x="249.95" y="501.6" font-size="11.2" text-anchor="middle" transform="rotate(0.1 249.95 501.6)">10<tspan font-size="7.2" dy="-5.3">3</tspan></text>
<text x="285.1" y="501.6" font-size="11.2" text-anchor="middle" transform="rotate(0.1 285.1 501.6)">2<tspan font-size="14.6" dx="-1.05" dy="0.85" fill-opacity=".72">×</tspan><tspan dx="-0.95" dy="-0.85">10</tspan><tspan font-size="7.2" dy="-5.3">3</tspan></text>
<text x="327" y="515" font-size="11.2" text-anchor="end" transform="rotate(0.1 327 515)">[GeV]</text>
<text x="279.6" y="515" font-size="11.2" text-anchor="start" transform="rotate(0.1 279.6 515)" font-style="italic">p</text>
<text x="286.4" y="509.6" font-size="7.8" text-anchor="start" transform="rotate(0.1 286.4 509.6)">jet</text>
<text x="286.4" y="520.1" font-size="7" text-anchor="start" transform="rotate(0.1 286.4 520.1)">T</text>
<path fill="none" stroke="#5a0d0d" stroke-width="1.1" d="M44.2 486.65H115.12"/>
<path fill="none" stroke="#10204e" stroke-width="1.1" d="M115.12 486.65H326.1"/>
<text x="53.5" y="308.35" font-size="11.2" text-anchor="start" transform="rotate(0.1 53.5 308.35)"><tspan font-size="12.2">√</tspan><tspan dx="-0.4">s=13 TeV, Data 2015-18</tspan></text>
<path class="k" style="stroke-width:.7" d="M60 299.03h5.6"/>
<text x="54.1" y="320.4" font-size="11.2" text-anchor="start" transform="rotate(0.1 54.1 320.4)">anti-<tspan font-style="italic">k</tspan></text>
<text x="81.5" y="323.3" font-size="7.6" text-anchor="start" transform="rotate(0.1 81.5 323.3)">t</text>
<text x="88.1" y="320.4" font-size="11.2" text-anchor="start" transform="rotate(0.1 88.1 320.4)"><tspan font-style="italic">R</tspan>=0.4, EM+JES,</text>
<text x="174.15" y="320.4" font-size="11.2" text-anchor="start" transform="rotate(0.1 174.15 320.4)" letter-spacing="-0.6">|η|</text>
<text x="185.3" y="320.4" font-size="11.2" text-anchor="start" transform="rotate(0.1 185.3 320.4)">&lt;0.8</text>
<text x="54.8" y="335.25" font-size="11.2" text-anchor="start" transform="rotate(0.1 54.8 335.25)">Gluon-jets</text>
<text x="306.5" y="308.65" font-size="11.3" text-anchor="end" transform="rotate(0.1 306.5 308.65)" font-weight="bold" font-style="italic" style="stroke-width:.24px">ATLAS</text>
<g transform="translate(9.2 294.35) rotate(-89.9)">
<text x="0" y="0" font-size="11.25" text-anchor="end">Fractional JES uncertainty</text>
</g>
<text x="114.2" y="349.7" font-size="7.2" text-anchor="start" transform="rotate(0.1 114.2 349.7)">E/p uncertainty</text>
<path class="c" stroke="#3a3aff" style="stroke-width:1.4" d="M115 358.2H132.4"/>
<text x="136.3" y="360.7" font-size="7.2" text-anchor="start" transform="rotate(0.1 136.3 360.7)">Hadron p<tspan font-size="5.2" dy="3.5">T</tspan><tspan dy="-3.5">&lt; 0.5 GeV</tspan></text>
<path class="c" stroke="#ff1e1e" style="stroke-width:1.4" d="M115 368.2H132.4"/>
<text x="136.3" y="370.7" font-size="7.2" text-anchor="start" transform="rotate(0.1 136.3 370.7)">K<tspan font-size="4.8" dy="1.6">L</tspan><tspan dy="-1.6"> </tspan>p<tspan font-size="5.2" dy="3.5">T</tspan><tspan dy="-3.5">&gt;25 GeV</tspan></text>
<path class="c" stroke="#cc33ff" style="stroke-width:1.1" d="M115 378.4H132.4"/>
<text x="136.3" y="380.9" font-size="7.2" text-anchor="start" transform="rotate(0.1 136.3 380.9)">Neutral Hadron</text>
<path class="c" stroke="#12a0a0" style="stroke-width:1.1" d="M115 388.5H132.4"/>
<text x="136.3" y="391" font-size="7.2" text-anchor="start" transform="rotate(0.1 136.3 391)">Hadron p<tspan font-size="5.2" dy="3.5">T</tspan><tspan dy="-3.5">&gt;10 GeV</tspan></text>
<path class="c" stroke="#45a5ff" style="stroke-width:1.4" d="M206 358.2H223.2"/>
<text x="226.3" y="360.7" font-size="7.2" text-anchor="start" transform="rotate(0.1 226.3 360.7)">K<tspan font-size="4.8" dy="1.6">L</tspan><tspan dy="-1.6"> </tspan>p<tspan font-size="5.2" dy="3.5">T</tspan><tspan dy="-3.5">&lt;25 GeV</tspan></text>
<path class="c" stroke="#15e815" style="stroke-width:1.4" d="M206 368.2H223.2"/>
<text x="226.3" y="370.7" font-size="7.2" text-anchor="start" transform="rotate(0.1 226.3 370.7)">MC Modelling</text>
<path class="c" stroke="#ffa533" style="stroke-width:1.1" d="M206 378.4H223.2"/>
<text x="226.3" y="380.9" font-size="7.2" text-anchor="start" transform="rotate(0.1 226.3 380.9)">Hadron 0.5&lt; p<tspan font-size="5.2" dy="3.5">T</tspan><tspan dy="-3.5"> &lt;10 GeV</tspan></text>
<path class="c" stroke="#ff33cc" style="stroke-width:1.1" d="M206 388.5H223.2"/>
<text x="226.3" y="391" font-size="7.2" text-anchor="start" transform="rotate(0.1 226.3 391)">e/γ</text>
<rect x="115.2" y="395.3" width="17.2" height="7.2" fill="#b9f3b9" stroke="#0f4a0f" stroke-width="1.3"/>
<text x="136.3" y="401.4" font-size="7.2" text-anchor="start" transform="rotate(0.1 136.3 401.4)">Total</text>
</g>
<g>
<path fill="#c3fbc3" stroke="none" d="M401.6 353.6H409.6V372.1H420.91V387H430.15V397.8H437.97V405.9H444.74V412.7H450.71V418.7H456.05V425H465.3V431.9H473.12V437H479.89V440.8H485.86V444.2H491.2V448.3H502.51V451.8H511.76V454.4H519.57V456.6H526.35V458H532.32V459.2H537.66V460.1H542.49V461H546.9V461.6H561.49V462.3H572.8V462.6H582.05V462.6H589.87V462.5H596.64V462.3H602.61V461.8H607.95V461.2H619.26V460.5H628.51V459.8H636.32V459.5H643.1V458.8H649.07V457.6H654.41V457.5H659.24V456.4H663.65V456.3H678.24V452.9H684.21V486.6H401.6Z"/>
<clipPath id="cp358"><path d="M401.6 353.6H409.6V372.1H420.91V387H430.15V397.8H437.97V405.9H444.74V412.7H450.71V418.7H456.05V425H465.3V431.9H473.12V437H479.89V440.8H485.86V444.2H491.2V448.3H502.51V451.8H511.76V454.4H519.57V456.6H526.35V458H532.32V459.2H537.66V460.1H542.49V461H546.9V461.6H561.49V462.3H572.8V462.6H582.05V462.6H589.87V462.5H596.64V462.3H602.61V461.8H607.95V461.2H619.26V460.5H628.51V459.8H636.32V459.5H643.1V458.8H649.07V457.6H654.41V457.5H659.24V456.4H663.65V456.3H678.24V452.9H684.21V486.6H401.6Z"/></clipPath>
<path clip-path="url(#cp358)" fill="none" stroke="#d6ffd6" stroke-width=".8" d="M403.8 293.95V486.6M406.45 293.95V486.6M409.1 293.95V486.6M411.75 293.95V486.6M414.4 293.95V486.6M417.05 293.95V486.6M419.7 293.95V486.6M422.35 293.95V486.6M425 293.95V486.6M427.65 293.95V486.6M430.3 293.95V486.6M432.95 293.95V486.6M435.6 293.95V486.6M438.25 293.95V486.6M440.9 293.95V486.6M443.55 293.95V486.6M446.2 293.95V486.6M448.85 293.95V486.6M451.5 293.95V486.6M454.15 293.95V486.6M456.8 293.95V486.6M459.45 293.95V486.6M462.1 293.95V486.6M464.75 293.95V486.6M467.4 293.95V486.6M470.05 293.95V486.6M472.7 293.95V486.6M475.35 293.95V486.6M478 293.95V486.6M480.65 293.95V486.6M483.3 293.95V486.6M485.95 293.95V486.6M488.6 293.95V486.6M491.25 293.95V486.6M493.9 293.95V486.6M496.55 293.95V486.6M499.2 293.95V486.6M501.85 293.95V486.6M504.5 293.95V486.6M507.15 293.95V486.6M509.8 293.95V486.6M512.45 293.95V486.6M515.1 293.95V486.6M517.75 293.95V486.6M520.4 293.95V486.6M523.05 293.95V486.6M525.7 293.95V486.6M528.35 293.95V486.6M531 293.95V486.6M533.65 293.95V486.6M536.3 293.95V486.6M538.95 293.95V486.6M541.6 293.95V486.6M544.25 293.95V486.6M546.9 293.95V486.6M549.55 293.95V486.6M552.2 293.95V486.6M554.85 293.95V486.6M557.5 293.95V486.6M560.15 293.95V486.6M562.8 293.95V486.6M565.45 293.95V486.6M568.1 293.95V486.6M570.75 293.95V486.6M573.4 293.95V486.6M576.05 293.95V486.6M578.7 293.95V486.6M581.35 293.95V486.6M584 293.95V486.6M586.65 293.95V486.6M589.3 293.95V486.6M591.95 293.95V486.6M594.6 293.95V486.6M597.25 293.95V486.6M599.9 293.95V486.6M602.55 293.95V486.6M605.2 293.95V486.6M607.85 293.95V486.6M610.5 293.95V486.6M613.15 293.95V486.6M615.8 293.95V486.6M618.45 293.95V486.6M621.1 293.95V486.6M623.75 293.95V486.6M626.4 293.95V486.6M629.05 293.95V486.6M631.7 293.95V486.6M634.35 293.95V486.6M637 293.95V486.6M639.65 293.95V486.6M642.3 293.95V486.6M644.95 293.95V486.6M647.6 293.95V486.6M650.25 293.95V486.6M652.9 293.95V486.6M655.55 293.95V486.6M658.2 293.95V486.6M660.85 293.95V486.6M663.5 293.95V486.6M666.15 293.95V486.6M668.8 293.95V486.6M671.45 293.95V486.6M674.1 293.95V486.6M676.75 293.95V486.6M679.4 293.95V486.6M682.05 293.95V486.6M684.7 293.95V486.6"/>
<path class="c" stroke="#eefcee" style="stroke-width:.6" d="M402.1 405.6H437.6"/>
<path class="c" stroke="#1d7c1d" style="stroke-width:1.38" d="M401.6 353.6H409.6V372.1H420.91V387H430.15V397.8H437.97V405.9H444.74V412.7H450.71V418.7H456.05V425H465.3V431.9H473.12V437H479.89V440.8H485.86V444.2H491.2V448.3H502.51V451.8H511.76V454.4H519.57V456.6H526.35V458H532.32V459.2H537.66V460.1H542.49V461H546.9V461.6H561.49V462.3H572.8V462.6H582.05V462.6H589.87V462.5H596.64V462.3H602.61V461.8H607.95V461.2H619.26V460.5H628.51V459.8H636.32V459.5H643.1V458.8H649.07V457.6H654.41V457.5H659.24V456.4H663.65V456.3H678.24V452.9H684.21V486.6"/>
<path class="c" stroke="#3a3aff" style="stroke-width:1.4" d="M401.6 486.5H409.6V486.5H420.91V486.5H430.15V486.5H437.97V486.5H444.74V486.5H450.71V486.5H456.05V486.5H465.3V486.5H473.12V486.5H479.89V486.5H485.86V486.5H491.2V486.5H502.51V486.5H511.76V486.5H519.57V486.5H526.35V486.5H532.32V486.5H537.66V486.5H542.49V486.5H546.9V486.5H561.49V486.5H572.8V486.5H582.05V486.5H589.87V486.5H596.64V486.5H602.61V486.5H607.95V486.5H619.26V486.5H628.51V486.5H636.32V486.5H643.1V486.5H649.07V486.5H654.41V486.5H659.24V486.5H663.65V486.5H678.24V486.5H684.21"/>
<path class="c" stroke="#52aaf4" style="stroke-width:1.7" d="M401.6 481.1H409.6V481.1H420.91V481.1H430.15V481.1H437.97V481.1H444.74V481.1H450.71V481.1H456.05V481.1H465.3V481.1H473.12V481.1H479.89V481.1H485.86V481.1H491.2V482.6H502.51V483.2H511.76V483.7H519.57V484.1H526.35V484.5H532.32V484.8H537.66V485H542.49V485.2H546.9V485.5H561.49V485.8H572.8V486H582.05V486H589.87V486H596.64V486H602.61V486H607.95V486H619.26V486H628.51V486H636.32V486H643.1V486H649.07V486H654.41V486H659.24V486H663.65V486H678.24V486H684.21"/>
<path class="c" stroke="#ff1e1e" style="stroke-width:1.4" d="M401.6 486.45H409.6V486.45H420.91V486.45H430.15V486.45H437.97V486.45H444.74V486.45H450.71V486.45H456.05V486.45H465.3V485.6H473.12V485.5H479.89V485.5H485.86V484.9H491.2V484.3H502.51V483.6H511.76V483H519.57V482.6H526.35V482.2H532.32V481.8H537.66V481.5H542.49V481.2H546.9V480.9H561.49V480.8H572.8V480.7H582.05V480.7H589.87V480.7H596.64V480.7H602.61V480.7H607.95V480.7H619.26V480.7H628.51V480.7H636.32V480.7H643.1V480.7H649.07V480.7H654.41V481.2H659.24V481.2H663.65V481.2H678.24V481.2H684.21"/>
<path class="c" stroke="#15e815" style="stroke-width:1.4" d="M401.6 473.3H409.6V473.3H420.91V473.3H430.15V473.3H437.97V471.3H444.74V471.3H450.71V473.4H456.05V477.6H465.3V482.3H473.12V484.3H479.89V484.3H485.86V486.6H491.2V486.6H502.51V486.6H511.76V486.6H519.57V486.6H526.35V486.6H532.32V486.6H537.66V486.6H542.49V486.6H546.9V486.6H561.49V486.6H572.8V486.6H582.05V486.6H589.87V486.6H596.64V486.6H602.61V486.6H607.95V486.6H619.26V486.6H628.51V486.6H636.32V486.6H643.1V486.6H649.07V486.6H654.41V486.6H659.24V486.6H663.65V486.6H678.24V486.6H684.21"/>
<path class="c" stroke="#12a0a0" style="stroke-width:1.2" d="M401.6 484.8H409.6V484.6H420.91V483.7H430.15V482.7H437.97V481.7H444.74V480.9H450.71V480.25H456.05V479.5H465.3V478.9H473.12V478.5H479.89V478.2H485.86V478H491.2V477.9H502.51V477.8H511.76V477.8H519.57V477.8H526.35V478H532.32V478H537.66V478H542.49V478H546.9V478.3H561.49V478.8H572.8V478.9H582.05V478.3H589.87V477.7H596.64V476.8H602.61V476.4H607.95V475H619.26V473.7H628.51V472.4H636.32V471.4H643.1V470.4H649.07V469.4H654.41V468.9H659.24V468H663.65V466.4H678.24V463.9H684.21"/>
<path class="c" stroke="#ffa533" style="stroke-width:1.3" d="M401.6 356.4H409.6V375.1H420.91V390.1H430.15V401.4H437.97V410.1H444.74V417.2H450.71V423.4H456.05V430.1H465.3V437.4H473.12V444.1H479.89V447.9H485.86V450.5H491.2V454.6H502.51V459.6H511.76V463H519.57V465.6H526.35V467.6H532.32V469.3H537.66V470.8H542.49V472.4H546.9V473.6H561.49V476.4H572.8V477.4H582.05V478.3H589.87V479H596.64V479.6H602.61V480.2H607.95V481.2H619.26V482.3H628.51V482.9H636.32V483.3H643.1V483.6H649.07V483.9H654.41V484.1H659.24V484.3H663.65V484.6H678.24V484.9H684.21"/>
<path class="c" stroke="#ff33cc" style="stroke-width:1.2" d="M401.6 469.5H409.6V470.4H420.91V472H430.15V472.9H437.97V473.6H444.74V474.4H450.71V475.1H456.05V475.8H465.3V476.4H473.12V476.9H479.89V477.3H485.86V477.8H491.2V478.4H502.51V478.6H511.76V478.9H519.57V479.1H526.35V479.4H532.32V479.6H537.66V479.8H542.49V480H546.9V480.2H561.49V480.4H572.8V480.6H582.05V480.6H589.87V480.6H596.64V480.6H602.61V480.6H607.95V480.6H619.26V480.6H628.51V480.6H636.32V480.6H643.1V480.6H649.07V480.6H654.41V480.35H659.24V480.35H663.65V480.35H678.24V480.35H684.21"/>
<path class="c" stroke="#cc33ff" style="stroke-width:1.2" d="M401.6 469.3H409.6V469.3H420.91V469.2H430.15V468.7H437.97V469H444.74V468.7H450.71V468.7H456.05V469H465.3V468.7H473.12V469.1H479.89V469.1H485.86V469.1H491.2V469.1H502.51V468.9H511.76V468.9H519.57V468.9H526.35V468.6H532.32V468.2H537.66V468.6H542.49V468.6H546.9V468.5H561.49V467.7H572.8V468H582.05V467.3H589.87V467.2H596.64V467H602.61V466.8H607.95V466.6H619.26V466.6H628.51V465.8H636.32V465.7H643.1V465.7H649.07V465.1H654.41V465.1H659.24V464.7H663.65V465.7H678.24V464.5H684.21"/>
<path class="k" d="M401.6 298.77h4.5M684.7 298.77h-4.5M401.6 303.58h4.5M684.7 303.58h-4.5M401.6 308.4h4.5M684.7 308.4h-4.5M401.6 313.21h4.5M684.7 313.21h-4.5M401.6 318.03h8.6M684.7 318.03h-8.6M401.6 322.85h4.5M684.7 322.85h-4.5M401.6 327.66h4.5M684.7 327.66h-4.5M401.6 332.48h4.5M684.7 332.48h-4.5M401.6 337.3h4.5M684.7 337.3h-4.5M401.6 342.11h8.6M684.7 342.11h-8.6M401.6 346.93h4.5M684.7 346.93h-4.5M401.6 351.75h4.5M684.7 351.75h-4.5M401.6 356.56h4.5M684.7 356.56h-4.5M401.6 361.38h4.5M684.7 361.38h-4.5M401.6 366.19h8.6M684.7 366.19h-8.6M401.6 371.01h4.5M684.7 371.01h-4.5M401.6 375.83h4.5M684.7 375.83h-4.5M401.6 380.64h4.5M684.7 380.64h-4.5M401.6 385.46h4.5M684.7 385.46h-4.5M401.6 390.27h8.6M684.7 390.27h-8.6M401.6 395.09h4.5M684.7 395.09h-4.5M401.6 399.91h4.5M684.7 399.91h-4.5M401.6 404.72h4.5M684.7 404.72h-4.5M401.6 409.54h4.5M684.7 409.54h-4.5M401.6 414.36h8.6M684.7 414.36h-8.6M401.6 419.17h4.5M684.7 419.17h-4.5M401.6 423.99h4.5M684.7 423.99h-4.5M401.6 428.81h4.5M684.7 428.81h-4.5M401.6 433.62h4.5M684.7 433.62h-4.5M401.6 438.44h8.6M684.7 438.44h-8.6M401.6 443.25h4.5M684.7 443.25h-4.5M401.6 448.07h4.5M684.7 448.07h-4.5M401.6 452.89h4.5M684.7 452.89h-4.5M401.6 457.7h4.5M684.7 457.7h-4.5M401.6 462.52h8.6M684.7 462.52h-8.6M401.6 467.34h4.5M684.7 467.34h-4.5M401.6 472.15h4.5M684.7 472.15h-4.5M401.6 476.97h4.5M684.7 476.97h-4.5M401.6 481.78h4.5M684.7 481.78h-4.5M409.6 486.6v-3.2M409.6 293.95v3.2M430.15 486.6v-3.2M430.15 293.95v3.2M444.74 486.6v-3.2M444.74 293.95v3.2M456.05 486.6v-3.2M456.05 293.95v3.2M465.3 486.6v-3.2M465.3 293.95v3.2M473.12 486.6v-3.2M473.12 293.95v3.2M479.89 486.6v-3.2M479.89 293.95v3.2M485.86 486.6v-3.2M485.86 293.95v3.2M491.2 486.6v-6M491.2 293.95v6M526.35 486.6v-3.2M526.35 293.95v3.2M546.9 486.6v-3.2M546.9 293.95v3.2M561.49 486.6v-3.2M561.49 293.95v3.2M572.8 486.6v-3.2M572.8 293.95v3.2M582.05 486.6v-3.2M582.05 293.95v3.2M589.87 486.6v-3.2M589.87 293.95v3.2M596.64 486.6v-3.2M596.64 293.95v3.2M602.61 486.6v-3.2M602.61 293.95v3.2M607.95 486.6v-6M607.95 293.95v6M643.1 486.6v-3.2M643.1 293.95v3.2M663.65 486.6v-3.2M663.65 293.95v3.2M678.24 486.6v-3.2M678.24 293.95v3.2"/>
<rect class="fr" x="401.6" y="293.95" width="283.1" height="192.65"/>
<text x="399.6" y="297.95" font-size="11.2" text-anchor="end" transform="rotate(0.1 399.6 297.95)">0.04</text>
<text x="399.6" y="322.03" font-size="11.2" text-anchor="end" transform="rotate(0.1 399.6 322.03)">0.035</text>
<text x="399.6" y="346.11" font-size="11.2" text-anchor="end" transform="rotate(0.1 399.6 346.11)">0.03</text>
<text x="399.6" y="370.19" font-size="11.2" text-anchor="end" transform="rotate(0.1 399.6 370.19)">0.025</text>
<text x="399.6" y="394.27" font-size="11.2" text-anchor="end" transform="rotate(0.1 399.6 394.27)">0.02</text>
<text x="399.6" y="418.36" font-size="11.2" text-anchor="end" transform="rotate(0.1 399.6 418.36)">0.015</text>
<text x="399.6" y="442.44" font-size="11.2" text-anchor="end" transform="rotate(0.1 399.6 442.44)">0.01</text>
<text x="399.6" y="466.52" font-size="11.2" text-anchor="end" transform="rotate(0.1 399.6 466.52)">0.005</text>
<text x="399.6" y="490.6" font-size="11.2" text-anchor="end" transform="rotate(0.1 399.6 490.6)">0</text>
<text x="409.6" y="501.6" font-size="11.2" text-anchor="middle" transform="rotate(0.1 409.6 501.6)">20</text>
<text x="430.15" y="501.6" font-size="11.2" text-anchor="middle" transform="rotate(0.1 430.15 501.6)">30</text>
<text x="491.2" y="501.6" font-size="11.2" text-anchor="middle" transform="rotate(0.1 491.2 501.6)">10<tspan font-size="7.2" dy="-5.3">2</tspan></text>
<text x="526.35" y="501.6" font-size="11.2" text-anchor="middle" transform="rotate(0.1 526.35 501.6)">2<tspan font-size="14.6" dx="-1.05" dy="0.85" fill-opacity=".72">×</tspan><tspan dx="-0.95" dy="-0.85">10</tspan><tspan font-size="7.2" dy="-5.3">2</tspan></text>
<text x="607.95" y="501.6" font-size="11.2" text-anchor="middle" transform="rotate(0.1 607.95 501.6)">10<tspan font-size="7.2" dy="-5.3">3</tspan></text>
<text x="643.1" y="501.6" font-size="11.2" text-anchor="middle" transform="rotate(0.1 643.1 501.6)">2<tspan font-size="14.6" dx="-1.05" dy="0.85" fill-opacity=".72">×</tspan><tspan dx="-0.95" dy="-0.85">10</tspan><tspan font-size="7.2" dy="-5.3">3</tspan></text>
<text x="685" y="515" font-size="11.2" text-anchor="end" transform="rotate(0.1 685 515)">[GeV]</text>
<text x="637.6" y="515" font-size="11.2" text-anchor="start" transform="rotate(0.1 637.6 515)" font-style="italic">p</text>
<text x="644.4" y="509.6" font-size="7.8" text-anchor="start" transform="rotate(0.1 644.4 509.6)">jet</text>
<text x="644.4" y="520.1" font-size="7" text-anchor="start" transform="rotate(0.1 644.4 520.1)">T</text>
<path fill="none" stroke="#5a0d0d" stroke-width="1.1" d="M402.2 486.65H473.12"/>
<path fill="none" stroke="#10204e" stroke-width="1.1" d="M473.12 486.65H684.1"/>
<text x="411.5" y="308.35" font-size="11.2" text-anchor="start" transform="rotate(0.1 411.5 308.35)"><tspan font-size="12.2">√</tspan><tspan dx="-0.4">s=13 TeV, Data 2015-18</tspan></text>
<path class="k" style="stroke-width:.7" d="M418 299.03h5.6"/>
<text x="412.1" y="320.4" font-size="11.2" text-anchor="start" transform="rotate(0.1 412.1 320.4)">anti-<tspan font-style="italic">k</tspan></text>
<text x="439.5" y="323.3" font-size="7.6" text-anchor="start" transform="rotate(0.1 439.5 323.3)">t</text>
<text x="446.1" y="320.4" font-size="11.2" text-anchor="start" transform="rotate(0.1 446.1 320.4)"><tspan font-style="italic">R</tspan>=0.4, EM+JES,</text>
<text x="532.15" y="320.4" font-size="11.2" text-anchor="start" transform="rotate(0.1 532.15 320.4)" letter-spacing="-0.6">|η|</text>
<text x="543.3" y="320.4" font-size="11.2" text-anchor="start" transform="rotate(0.1 543.3 320.4)">&lt;0.8</text>
<text x="412.8" y="335.25" font-size="11.2" text-anchor="start" transform="rotate(0.1 412.8 335.25)">Quark-jets</text>
<text x="664.5" y="308.65" font-size="11.3" text-anchor="end" transform="rotate(0.1 664.5 308.65)" font-weight="bold" font-style="italic" style="stroke-width:.24px">ATLAS</text>
<g transform="translate(367.2 294.35) rotate(-89.9)">
<text x="0" y="0" font-size="11.25" text-anchor="end">Fractional JES uncertainty</text>
</g>
<text x="472.2" y="349.7" font-size="7.2" text-anchor="start" transform="rotate(0.1 472.2 349.7)">E/p uncertainty</text>
<path class="c" stroke="#3a3aff" style="stroke-width:1.4" d="M473 358.2H490.4"/>
<text x="494.3" y="360.7" font-size="7.2" text-anchor="start" transform="rotate(0.1 494.3 360.7)">Hadron p<tspan font-size="5.2" dy="3.5">T</tspan><tspan dy="-3.5">&lt; 0.5 GeV</tspan></text>
<path class="c" stroke="#ff1e1e" style="stroke-width:1.4" d="M473 368.2H490.4"/>
<text x="494.3" y="370.7" font-size="7.2" text-anchor="start" transform="rotate(0.1 494.3 370.7)">K<tspan font-size="4.8" dy="1.6">L</tspan><tspan dy="-1.6"> </tspan>p<tspan font-size="5.2" dy="3.5">T</tspan><tspan dy="-3.5">&gt;25 GeV</tspan></text>
<path class="c" stroke="#cc33ff" style="stroke-width:1.1" d="M473 378.4H490.4"/>
<text x="494.3" y="380.9" font-size="7.2" text-anchor="start" transform="rotate(0.1 494.3 380.9)">Neutral Hadron</text>
<path class="c" stroke="#12a0a0" style="stroke-width:1.1" d="M473 388.5H490.4"/>
<text x="494.3" y="391" font-size="7.2" text-anchor="start" transform="rotate(0.1 494.3 391)">Hadron p<tspan font-size="5.2" dy="3.5">T</tspan><tspan dy="-3.5">&gt;10 GeV</tspan></text>
<path class="c" stroke="#45a5ff" style="stroke-width:1.4" d="M564 358.2H581.2"/>
<text x="584.3" y="360.7" font-size="7.2" text-anchor="start" transform="rotate(0.1 584.3 360.7)">K<tspan font-size="4.8" dy="1.6">L</tspan><tspan dy="-1.6"> </tspan>p<tspan font-size="5.2" dy="3.5">T</tspan><tspan dy="-3.5">&lt;25 GeV</tspan></text>
<path class="c" stroke="#15e815" style="stroke-width:1.4" d="M564 368.2H581.2"/>
<text x="584.3" y="370.7" font-size="7.2" text-anchor="start" transform="rotate(0.1 584.3 370.7)">MC Modelling</text>
<path class="c" stroke="#ffa533" style="stroke-width:1.1" d="M564 378.4H581.2"/>
<text x="584.3" y="380.9" font-size="7.2" text-anchor="start" transform="rotate(0.1 584.3 380.9)">Hadron 0.5&lt; p<tspan font-size="5.2" dy="3.5">T</tspan><tspan dy="-3.5"> &lt;10 GeV</tspan></text>
<path class="c" stroke="#ff33cc" style="stroke-width:1.1" d="M564 388.5H581.2"/>
<text x="584.3" y="391" font-size="7.2" text-anchor="start" transform="rotate(0.1 584.3 391)">e/γ</text>
<rect x="473.2" y="395.3" width="17.2" height="7.2" fill="#b9f3b9" stroke="#0f4a0f" stroke-width="1.3"/>
<text x="494.3" y="401.4" font-size="7.2" text-anchor="start" transform="rotate(0.1 494.3 401.4)">Total</text>
</g>
<text x="165" y="256.7" font-size="15" text-anchor="middle" font-family='"Liberation Serif", serif' transform="rotate(0.1 165 256.7)" style="stroke:none">(a)</text>
<text x="523.3" y="256.7" font-size="15" text-anchor="middle" font-family='"Liberation Serif", serif' transform="rotate(0.1 523.3 256.7)" style="stroke:none">(b)</text>
<text x="165" y="545.9" font-size="15" text-anchor="middle" font-family='"Liberation Serif", serif' transform="rotate(0.1 165 545.9)" style="stroke:none">(c)</text>
<text x="523.3" y="545.9" font-size="15" text-anchor="middle" font-family='"Liberation Serif", serif' transform="rotate(0.1 523.3 545.9)" style="stroke:none">(d)</text>
</svg></body></html>
